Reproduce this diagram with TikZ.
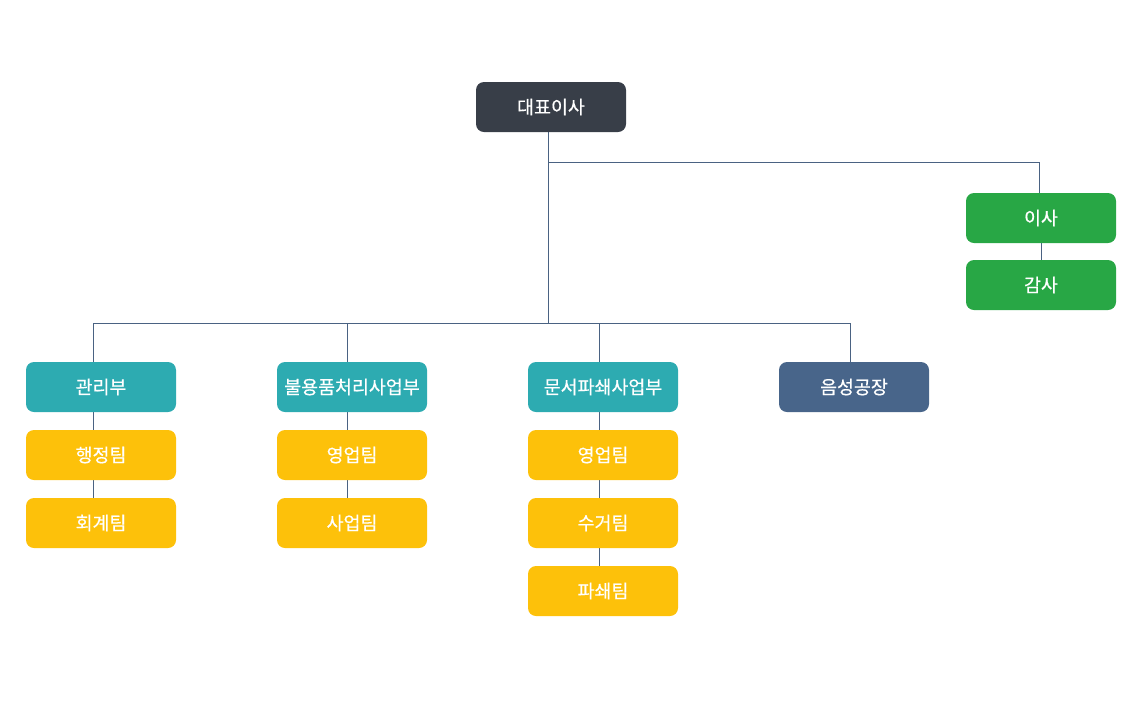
\documentclass[tikz,border=0pt]{standalone}
\usepackage{fontspec}
\usepackage{xcolor}
\setmainfont{Noto Sans CJK KR}
\newfontfamily\medfont{Noto Sans CJK KR}[FakeBold=0.5]
\usetikzlibrary{calc}
\usetikzlibrary{positioning}
\usetikzlibrary{backgrounds}

\definecolor{chefcol}{HTML}{383E48}
\definecolor{conseilcol}{HTML}{28A745}
\definecolor{divcol}{HTML}{2DABB1}
\definecolor{equipecol}{HTML}{FDC10A}
\definecolor{usinecol}{HTML}{48658A}
\definecolor{lignecol}{HTML}{4A6282}

\begin{document}
\begin{tikzpicture}[x=0.75pt,y=-0.75pt]

\tikzset{
    box/.style = {
    minimum height=37.5pt,
    minimum width = 112.5pt,
    outer sep=0pt,
    inner xsep=2pt,
    rounded corners=6pt,
    text=white,
    font=\fontsize{13.8}{16}\medfont
    },
    lien/.style = {draw=lignecol, line width=0.75pt}
}

\tikzstyle{chef}=[fill=chefcol, box]
\tikzstyle{conseil}=[fill=conseilcol, box]
\tikzstyle{division}=[fill=divcol, box]
\tikzstyle{equipe}=[fill=equipecol, box]
\tikzstyle{usine}=[fill=usinecol, box]

\useasboundingbox (0,0) rectangle (1145,708);

\node (o-ceo) [chef] at (551,107) {대표이사};

\node (o-dir) [conseil] at (1041,218) {이사};
\node (o-aud) [conseil, below=12.75pt of o-dir] {감사};

\node (o-adm) [division] at (101,387) {관리부};
\node (o-adm-1) [equipe, below=13.5pt of o-adm] {행정팀};
\node (o-adm-2) [equipe, below=13.5pt of o-adm-1] {회계팀};

\node (o-rec) [division] at (352,387) {불용품처리사업부};
\node (o-rec-1) [equipe, below=13.5pt of o-rec] {영업팀};
\node (o-rec-2) [equipe, below=13.5pt of o-rec-1] {사업팀};

\node (o-shr) [division] at (603,387) {문서파쇄사업부};
\node (o-shr-1) [equipe, below=13.5pt of o-shr] {영업팀};
\node (o-shr-2) [equipe, below=13.5pt of o-shr-1] {수거팀};
\node (o-shr-3) [equipe, below=13.5pt of o-shr-2] {파쇄팀};

\node (o-fac) [usine] at (854,387) {음성공장};

\coordinate (b-top) at ($(o-ceo.south |- 0,162)+(-3,0)$);
\coordinate (b-low) at ($(o-ceo.south |- 0,323)+(-3,0)$);

\begin{scope}[on background layer]
\draw [lien] (b-low |- o-ceo.south) -- (b-low);
\draw [lien] (b-top) -| ([xshift=-1.5pt]o-dir.north);
\draw [lien] (o-dir) -- (o-aud);

\draw [lien] (b-low) -| ([xshift=-6pt]o-adm.north);
\draw [lien] (b-low) -| ([xshift=-3.75pt]o-rec.north);
\draw [lien] (b-low) -| ([xshift=-3pt]o-shr.north);
\draw [lien] (b-low) -| ([xshift=-3pt]o-fac.north);

\draw [lien] ([xshift=-6pt]o-adm.south) -- ([xshift=-6pt]o-adm-2.north);
\draw [lien] ([xshift=-3.75pt]o-rec.south) -- ([xshift=-3.75pt]o-rec-2.north);
\draw [lien] ([xshift=-3pt]o-shr.south) -- ([xshift=-3pt]o-shr-3.north);
\end{scope}

\end{tikzpicture}
\end{document}
